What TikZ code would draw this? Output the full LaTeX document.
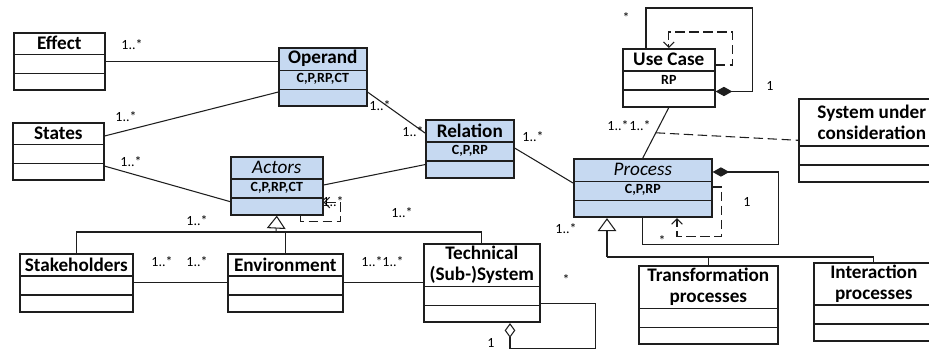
\documentclass[tikz,border=0pt]{standalone}
\usepackage{fontspec}
\setmainfont{Carlito}
\usetikzlibrary{arrows.meta,calc}

\definecolor{classblue}{RGB}{198,217,241}
\definecolor{umlline}{RGB}{30,30,30}

\tikzset{
  classbox/.style={draw=umlline,line width=1.2pt,anchor=north west,inner sep=0pt},
  classline/.style={draw=umlline,line width=1.2pt},
  classname/.style={font=\fontsize{14.4}{15.75}\selectfont\bfseries,align=center,inner sep=0pt},
  classattr/.style={font=\fontsize{10.5}{12}\selectfont\bfseries,inner sep=0pt},
  mult/.style={font=\fontsize{10.5}{12}\selectfont,inner sep=0pt},
  assoc/.style={draw=umlline,line width=0.8pt},
  dep/.style={assoc,dash pattern=on 7pt off 3.5pt,-{Straight Barb[length=4pt,width=8pt]}},
  gen/.style={assoc,-{Triangle[open,length=9.75pt,width=14pt]}},
  comp/.style={assoc,{Diamond[length=12.5pt,width=7pt]}-},
  aggr/.style={assoc,{Diamond[open,length=11pt,width=8pt]}-}
}

% class box: [fill]{name}{north west}{width}{title height}{title}{attributes}
\newcommand{\umlclass}[7][white]{%
  \node[classbox,fill=#1,minimum width=#4*0.75pt,minimum height=(#5+35)*0.75pt] (#2) at (#3) {};
  \node[classname] (#2-name) at ($(#2.north)+(0,#5/2)$) {#6};
  \node[classattr] (#2-attr) at ($(#2.north)+(0,#5+8.75)$) {#7};
  \draw[classline] ($(#2.north west)+(0,#5)$) -- ++(#4,0);
  \draw[classline] ($(#2.south west)+(0,-17.5)$) -- ++(#4,0);
}

\begin{document}
\begin{tikzpicture}[x=0.75pt,y=-0.75pt]
  \useasboundingbox (0,0) rectangle (929,352);

  % classes
  \umlclass{eff}{13,32}{91}{22.5}{Effect}{}
  \umlclass{sta}{12,122}{91}{22.5}{States}{}
  \umlclass[classblue]{op}{278,47}{88}{23.5}{Operand}{C,P,RP,CT}
  \umlclass[classblue]{rel}{425,119}{88}{23}{Relation}{C,P,RP}
  \umlclass[classblue]{act}{230,156}{92}{23}{\mdseries\itshape Actors}{C,P,RP,CT}
  \umlclass{uc}{622,48}{92}{23}{Use Case}{RP}
  \umlclass[classblue]{proc}{573,158}{138}{23.5}{\mdseries\itshape Process}{C,P,RP}
  \umlclass{sys}{798,98}{146}{48}{System under\\consideration}{}
  \umlclass{stk}{19,253}{113}{23}{Stakeholders}{}
  \umlclass{env}{227,253}{115}{23}{Environment}{}
  \umlclass{tech}{423,243}{116}{43.5}{Technical\\(Sub-)System}{}
  \umlclass{trans}{638,265}{139}{43.5}{Transformation\\processes}{}
  \umlclass{inter}{813,262}{120}{43}{Interaction\\processes}{}

  % associations
  \draw[assoc] (eff.east) -- (op.west |- eff.east);
  \draw[assoc] ($(sta.north east)+(0,14)$) -- ($(op.south west)+(0,-15)$);
  \draw[assoc] ($(sta.south east)+(0,-15)$) -- ($(act.south west)+(0,-14)$);
  \draw[assoc] ($(op.south east)+(0,-15)$) -- ($(rel.north west)+(0,14)$);
  \draw[assoc] ($(rel.south west)+(0,-14)$) -- ($(act.north east)+(0,29)$);
  \draw[assoc] ($(rel.north east)+(0,29)$) -- ($(proc.north west)+(0,25)$);
  \draw[assoc] (uc.south) -- (proc.north);
  \draw[assoc,dash pattern=on 7pt off 3.5pt] ($(uc.south)!0.5!(proc.north)$) -- (sys.west);
  \draw[assoc] (stk.east) -- (env.west);
  \draw[assoc] (env.east) -- (tech.west |- env.east);

  % generalizations
  \coordinate (actfork) at (276,232);
  \draw[gen] (actfork) -- (act.south);
  \draw[assoc] (stk.north) |- (actfork) -| (tech.north);
  \draw[assoc] (env.north) -- (env.north |- actfork);
  \coordinate (procfork) at (607,257);
  \draw[gen] (procfork) -- (procfork |- proc.south);
  \draw[assoc] (procfork) -| (inter.north);
  \draw[assoc] (trans.north) -- (trans.north |- procfork);

  % self relations
  \draw[dep] ($(act.south east)+(-23,0)$) -- ++(0,6) -| ($(act.south east)+(17,-13)$) -- ($(act.south east)+(0,-13)$);
  \draw[comp] ($(proc.north east)+(0,14)$) -| ($(proc.south east)+(66,26)$) -| (proc.south);
  \draw[dep] ($(proc.north east)+(0,29)$) -| ($(proc.south east)+(9,18)$) -| ($(proc.south west)+(104,0)$);
  \draw[comp] ($(uc.north east)+(0,43.5)$) -| ($(uc.north east)+(37,-40)$) -| ($(uc.north west)+(24,0)$);
  \draw[dep] ($(uc.north east)+(0,17)$) -| ($(uc.north east)+(17,-16)$) -| (uc.north);
  \draw[aggr] ($(tech.south west)+(87,0)$) |- ($(tech.south east)+(55,25)$) |- ($(tech.south east)+(0,-20)$);

  % multiplicities
  \node[mult] (m1) at (132,45) {1..*};
  \node[mult] (m2) at (126,117) {1..*};
  \node[mult] (m3) at (131,162) {1..*};
  \node[mult] (m4) at (380,106) {1..*};
  \node[mult] (m5) at (413,132) {1..*};
  \node[mult] (m6) at (533,137) {1..*};
  \node[mult] (m7) at (566,229) {1..*};
  \node[mult] (m8) at (197,221) {1..*};
  \node[mult] (m9) at (402,213) {1..*};
  \node[mult] (m10) at (333,202) {1..*};
  \node[mult] (m11) at (618,126) {1..*};
  \node[mult] (m12) at (640,126) {1..*};
  \node[mult] (m13) at (162,262) {1..*};
  \node[mult] (m14) at (197,262) {1..*};
  \node[mult] (m15) at (372,262) {1..*};
  \node[mult] (m16) at (393,262) {1..*};
  \node[mult] (m17) at (626,18) {*};
  \node[mult] (m18) at (770,86) {1};
  \node[mult] (m19) at (747,202) {1};
  \node[mult] (m20) at (662,241) {*};
  \node[mult] (m21) at (566,280) {*};
  \node[mult] (m22) at (491,343) {1};
\end{tikzpicture}
\end{document}
